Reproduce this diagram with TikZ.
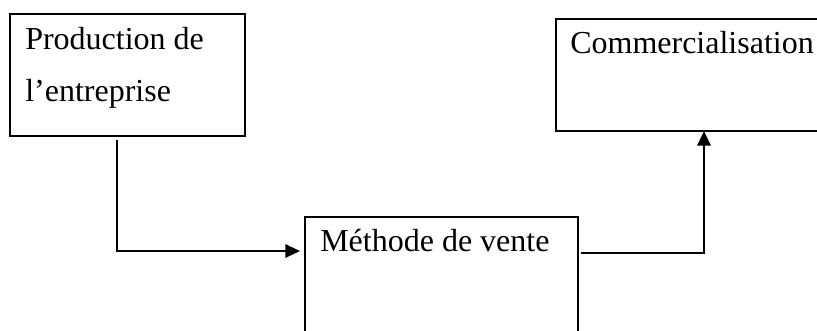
\documentclass[tikz,border=0pt]{standalone}
\usepackage{fontspec}
\setmainfont{Liberation Serif}
\usetikzlibrary{positioning,arrows.meta}

\begin{document}
\begin{tikzpicture}[
      x=0.75pt, y=-0.75pt,
      boite/.style = {draw, line width=0.8pt, anchor=north west, inner sep=0pt, outer sep=0pt},
      texte/.style = {anchor=base west, inner sep=0pt, align=left, font=\fontsize{24}{39}\selectfont},
      fleche/.style = {-{Triangle[length=11pt,width=10pt]}, line width=1.6pt}
      ]
      \useasboundingbox (0,0) rectangle (817,330);
      \node[boite, minimum width=176.25pt, minimum height=91.5pt] (prod) at (10,14) {};
      \node[boite, minimum width=204.75pt, minimum height=92.25pt] (meth) at (305,217) {};
      \node[boite, minimum width=210pt, minimum height=84pt] (comm) at (556,19) {};
      % base = derniere ligne
      \node[texte] (prodtxt) at ([shift={(15,87)}]prod.north west) {Production de\\l’entreprise};
      \node[texte] (methtxt) at ([shift={(15,34)}]meth.north west) {Méthode de vente};
      \node[texte] (commtxt) at ([shift={(14,34)}]comm.north west) {Commercialisation};
      \draw[fleche] ([shift={(107,4)}]prod.south west) |- ([shift={(-5,34)}]meth.north west);
      \draw[fleche] ([shift={(3,36)}]meth.north east) -| ([shift={(148,0)}]comm.south west);
    \end{tikzpicture}
\end{document}
